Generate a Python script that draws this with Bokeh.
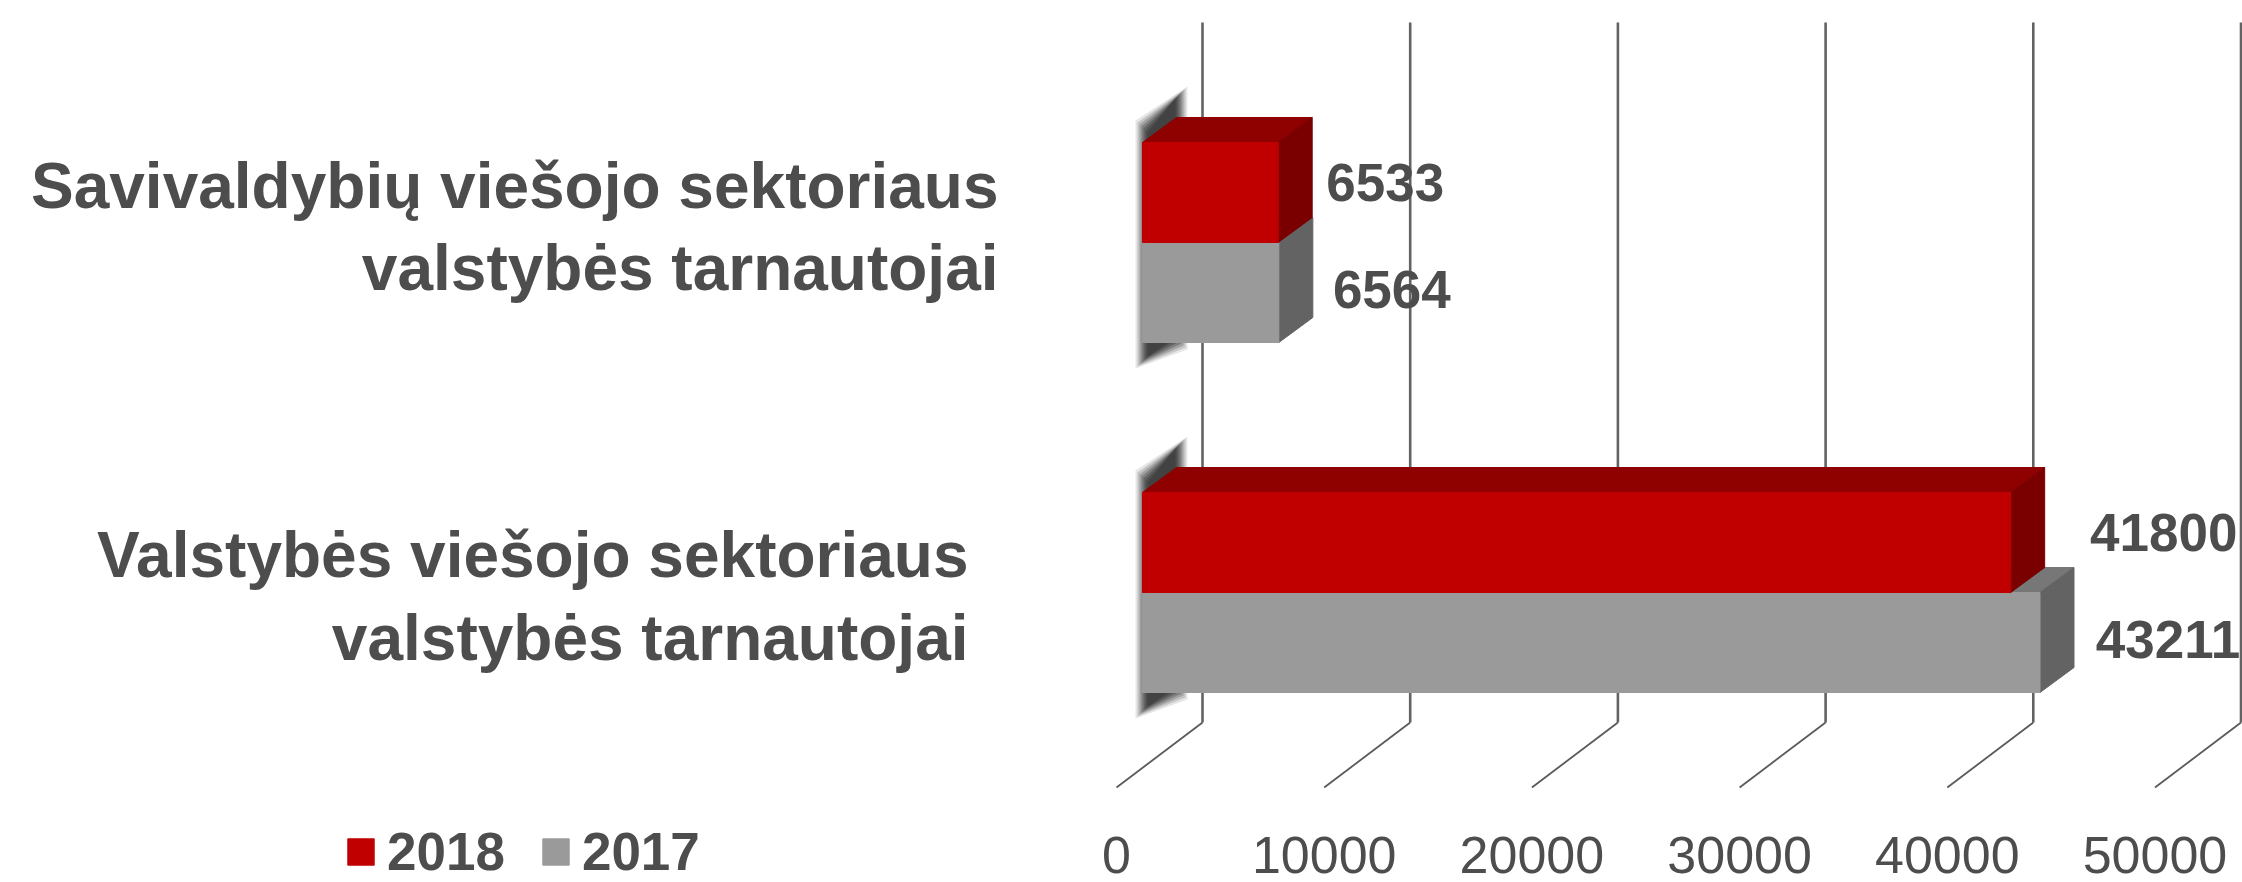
from bokeh.embed import file_html
from bokeh.resources import INLINE
from bokeh.core.properties import value
from bokeh.models import ColumnDataSource, FixedTicker, Legend, LegendItem, LinearAxis, Range1d
from bokeh.plotting import figure

categories = ["Valstybės viešojo sektoriaus\nvalstybės tarnautojai",
              "Savivaldybių viešojo sektoriaus\nvalstybės tarnautojai"]
v2018 = [41800, 6533]
v2017 = [43211, 6564]
ticks = [0, 10000, 20000, 30000, 40000, 50000]

W, H = 2242, 882
KX = 0.02077          # px per unit of value
KY = 350.0            # px per category band
FONT = "Liberation Sans"
TXT = "#4d4d4d"


def dx(px):
    return px / KX


def dy(px):
    return px / KY


p = figure(width=W, height=H, output_backend="svg", toolbar_location=None,
           x_range=Range1d(dx(0 - 1116), dx(W - 1116)),
           y_range=Range1d(dy(767 - H), dy(767 - 0)),
           min_border_left=0, min_border_right=0, min_border_top=0,
           min_border_bottom=0, outline_line_color=None,
           background_fill_color="white", border_fill_color="white")
p.xaxis.visible = False
p.yaxis.visible = False
p.grid.visible = False

axis = LinearAxis(ticker=FixedTicker(ticks=ticks), fixed_location=dy(767 - 787))
axis.axis_line_color = None
axis.major_tick_line_color = None
axis.minor_tick_line_color = None
axis.major_label_text_font = FONT
axis.major_label_text_font_size = "52px"
axis.major_label_text_color = TXT
axis.major_label_standoff = 43
axis.formatter.use_scientific = False
p.add_layout(axis, "below")

# value-axis wall: verticals on the back plane, diagonals to the front plane
for t in ticks:
    xb = t + dx(86)
    p.line([xb, xb], [dy(767 - 722), dy(767 - 22)], line_color="#636363", line_width=2.6)
    p.line([xb, t], [dy(767 - 722), dy(767 - 787)], line_color="#5a5a5a", line_width=1.8)

X0 = dx(26)     # front plane of the bars relative to the axis front plane
DX, DY = dx(34), dy(25)
H_BAR = dy(100)

# blurred shadow on the left of each bar group
for i in range(len(categories)):
    c = i + 0.5
    for e, a in [(9, .12), (7, .18), (5, .24), (3, .30), (1, .36), (-1, .42), (-3, .45)]:
        xs = [X0 + dx(2 - e), X0 + dx(36 + e), X0 + dx(36 + e), X0 + dx(2 - e)]
        ys = [c + H_BAR + dy(13 + e), c + H_BAR + dy(47 + e),
              c - H_BAR + dy(2 - e), c - H_BAR + dy(-17 - e)]
        p.patch(xs, ys, fill_color="#333333", fill_alpha=a, line_color=None)


def bars(vals, sign, front, top, side):
    """sign=+1: upper bar of the pair; -1: lower bar of the pair."""
    bot = [i + 0.5 + (0 if sign > 0 else -H_BAR) for i in range(len(vals))]
    upp = [b + H_BAR for b in bot]
    right = [X0 + v for v in vals]
    left = [X0] * len(vals)
    p.patches([[l, r, r + DX, l + DX] for l, r in zip(left, right)],
              [[u, u, u + DY, u + DY] for u in upp],
              fill_color=top, line_color=top, line_width=1)
    p.patches([[r, r + DX, r + DX, r] for r in right],
              [[b, b + DY, u + DY, u] for b, u in zip(bot, upp)],
              fill_color=side, line_color=side, line_width=1)
    src = ColumnDataSource(dict(left=left, right=right, bottom=bot, top=upp))
    return p.quad(left="left", right="right", bottom="bottom", top="top", source=src,
                  fill_color=front, line_color=front, line_width=1)


r17 = bars(v2017, -1, "#9a9a9a", "#777777", "#636363")
r18 = bars(v2018, +1, "#c00000", "#8f0000", "#7a0000")

# data labels
lab_off_18 = [153, 107]
lab_off_17 = [128, 113]
for vals, sign, offs, shift in [(v2018, 1, lab_off_18, -10), (v2017, -1, lab_off_17, -3)]:
    xs = [X0 + v + dx(o) for v, o in zip(vals, offs)]
    ys = [i + 0.5 + sign * H_BAR / 2 - dy(shift) for i in range(len(vals))]
    p.text(xs, ys, text=[str(v) for v in vals], text_font=value(FONT), text_font_style="bold",
           text_font_size="53px", text_color=TXT, text_align="center", text_baseline="middle")

# category labels
cat_right = [968, 998]
cat_y = [596, 226.5]
p.text([dx(x - 1116) for x in cat_right], [dy(767 - y) for y in cat_y], text=categories,
       text_font=value(FONT), text_font_style="bold", text_font_size="64px", text_color=TXT,
       text_align="right", text_baseline="middle", text_line_height=1.14)

legend = Legend(items=[LegendItem(label="2018", renderers=[r18]), LegendItem(label="2017", renderers=[r17])],
                orientation="horizontal", location=(344, 0), margin=0, padding=0, spacing=34,
                glyph_width=33, glyph_height=33, label_standoff=10,
                label_text_font=FONT, label_text_font_style="bold", label_text_font_size="53px",
                label_text_color=TXT, background_fill_alpha=0, border_line_color=None)
p.add_layout(legend, "center")

open("out.html", "w").write(file_html(p, INLINE))
